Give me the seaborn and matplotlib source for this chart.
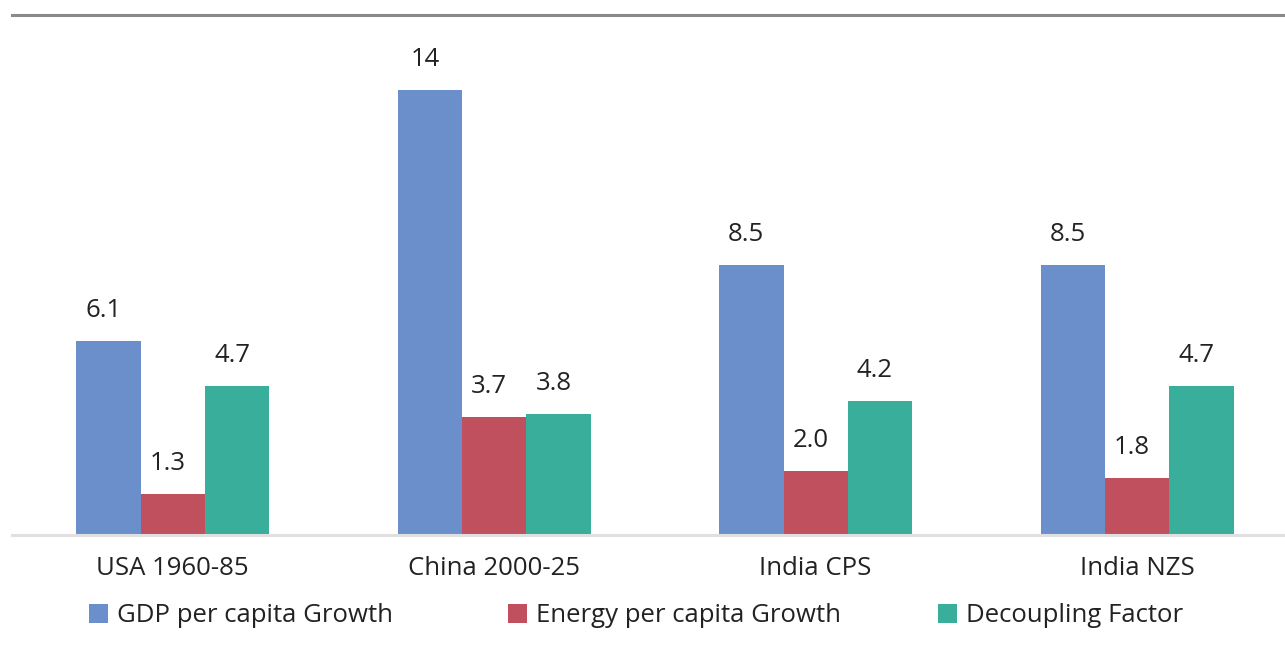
import matplotlib
matplotlib.use("Agg")
import matplotlib.pyplot as plt
from matplotlib.patches import Patch
import pandas as pd
import seaborn as sns

# Data
categories = ["USA 1960-85", "China 2000-25", "India CPS", "India NZS"]
series_names = ["GDP per capita Growth", "Energy per capita Growth", "Decoupling Factor"]
gdp_growth = [6.1, 14, 8.5, 8.5]
energy_growth = [1.3, 3.7, 2.0, 1.8]
decoupling = [4.7, 3.8, 4.2, 4.7]
colors = ["#6A8FCB", "#C1505F", "#38AE9B"]

df = pd.DataFrame({
    "category": categories * 3,
    "series": [s for s in series_names for _ in categories],
    "value": gdp_growth + energy_growth + decoupling,
})

sns.set_theme(style="white")
plt.rcParams["font.family"] = ["Open Sans", "DejaVu Sans"]
FS = 18.5
TXT = "#222222"

fig = plt.figure(figsize=(12.85, 6.53), dpi=100)
ax = fig.add_axes([12 / 1285, 1 - 535 / 653, 1 - 12 / 1285, (535 - 15) / 653])

sns.barplot(data=df, x="category", y="value", hue="series", order=categories,
            hue_order=series_names, palette=colors, width=0.6, gap=0,
            saturation=1, linewidth=0, legend=False, ax=ax)

def fmt(v):
    return f"{v:.0f}" if v >= 10 else f"{v:.1f}"

for container in ax.containers:
    for bar in container:
        h = bar.get_height()
        ax.annotate(fmt(h), (bar.get_x() + bar.get_width() / 2, h),
                    xytext=(-5, 18), textcoords="offset pixels",
                    ha="center", va="bottom", fontsize=FS, color=TXT)

ax.set_xlim(-0.5, 3.46)
ax.set_ylim(0, 16.35)
ax.set_xlabel("")
ax.set_ylabel("")
ax.set_yticks([])
ax.tick_params(axis="x", length=0, pad=15, labelsize=FS, labelcolor=TXT)

for side in ["left", "right"]:
    ax.spines[side].set_visible(False)
ax.spines["top"].set_visible(True)
ax.spines["top"].set_color("#8a8a8a")
ax.spines["top"].set_linewidth(2.2)
ax.spines["bottom"].set_visible(True)
ax.spines["bottom"].set_color("#e0e0e0")
ax.spines["bottom"].set_linewidth(2.2)

# Legend entries placed one by one along the bottom
legend_x = [89, 508, 938]
for name, c, x in zip(series_names, colors, legend_x):
    fig.legend([Patch(facecolor=c, edgecolor="none")], [name],
               loc="center left", bbox_to_anchor=(x / 1285, 1 - 616 / 653),
               frameon=False, fontsize=FS, handlelength=0.74, handleheight=0.74,
               handletextpad=0.36, borderpad=0, borderaxespad=0, labelcolor=TXT)

fig.savefig("out.png", dpi=100)
